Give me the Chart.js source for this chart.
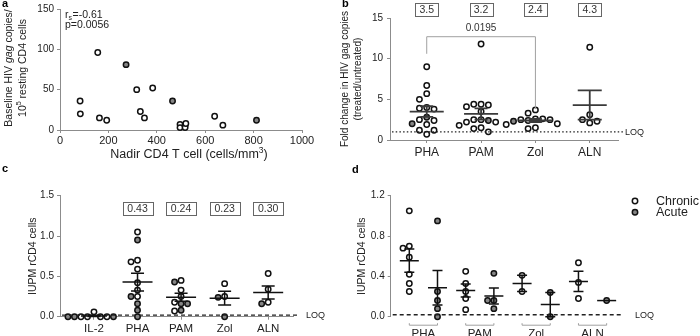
<!DOCTYPE html>
<html>
<head>
<meta charset="utf-8">
<script src="https://cdn.jsdelivr.net/npm/chart.js@4.4.0/dist/chart.umd.min.js"></script>
<style>
  html, body { margin: 0; padding: 0; background: #fff; width: 700px; height: 336px; overflow: hidden; }
  canvas { position: absolute; }
</style>
</head>
<body>
<canvas id="ca" width="340" height="165" style="left:0;top:0"></canvas>
<canvas id="cb" width="360" height="165" style="left:340px;top:0"></canvas>
<canvas id="cc" width="350" height="171" style="left:0;top:165px"></canvas>
<canvas id="cd" width="350" height="171" style="left:350px;top:165px"></canvas>
<script>
// ---- panel a: nadir CD4 vs baseline gag copies
const aChronicX = [83, 84, 156, 163, 193, 317, 332, 349, 383, 496, 496, 517, 517, 520, 639, 673];
const aChronicY = [36, 20, 96, 15, 12, 50, 23, 15, 52, 7, 3, 6, 3, 8, 17, 6];
const aAcuteX = [273, 465, 812];
const aAcuteY = [81, 36, 12];

// ---- panel b: fold change in gag copies
const bGroups = ['PHA', 'PAM', 'Zol', 'ALN'];
const bChronic = [
  [9.0, 6.7, 5.7, 5.0, 4.0, 3.8, 3.9, 2.4, 2.5, 1.9, 1.2, 1.2, 0.7],
  [11.8, 4.4, 4.4, 4.3, 4.1, 3.5, 2.5, 2.2, 2.5, 2.2, 1.8, 1.5, 1.4, 1.0],
  [3.7, 3.3, 2.6, 2.5, 2.5, 2.6, 2.4, 2.0, 1.9, 1.5, 1.4],
  [11.4, 3.1, 2.5, 2.1, 2.3]
];
const bAcute = [[2.8, 2.0], [2.4], [2.3], []];
const bMean = [3.5, 3.2, 2.4, 4.3];
const bSem = [0.65, 0.7, 0.2, 1.8];
const bLoq = 1;
const bPvalue = '0.0195';

// ---- panel c: IUPM per stimulus
const cGroups = ['IL-2', 'PHA', 'PAM', 'Zol', 'ALN'];
const cChronic = [
  [0.06, 0, 0, 0, 0],
  [1.05, 0.70, 0.68, 0.59, 0.42, 0.33, 0.25],
  [0.45, 0.33, 0.25, 0.18, 0.07],
  [0.41, 0.25],
  [0.535, 0.34, 0.18]
];
const cAcute = [
  [0, 0, 0],
  [0.95, 0.25, 0.16, 0.08, 0],
  [0.43, 0.16, 0.16, 0.08],
  [0.24, 0],
  [0.16]
];
const cMean = [0.01, 0.43, 0.24, 0.23, 0.30];
const cSem = [0.008, 0.11, 0.05, 0.085, 0.08];
const cLoq = 0.02;

// ---- panel d: chronic vs acute
const dGroups = ['PHA', 'PAM', 'Zol', 'ALN'];
const dMeanChronic = [0.556, 0.26, 0.33, 0.35];
const dSemChronic = [0.115, 0.065, 0.08, 0.10];
const dMeanAcute = [0.287, 0.205, 0.12, 0.16];
const dSemAcute = [0.17, 0.08, 0.12, 0];

const FONT = "'Liberation Sans', Arial, sans-serif";
const AX = '#8c8c8c';
const TXT = '#222';
const GRAY = '#858585';

function pts(groups) {
  const out = [];
  groups.forEach((vals, g) => vals.forEach(v => out.push({ x: g, y: v, g })));
  return out;
}
function dotSet(data, fill) {
  return {
    data, backgroundColor: fill, borderColor: '#111', borderWidth: 1.5,
    pointRadius: 2.7, pointHoverRadius: 2.7, clip: false
  };
}
function axis(o) {
  return Object.assign({
    type: 'linear',
    grid: { drawOnChartArea: false, color: AX, tickLength: 3 },
    border: { color: AX },
  }, o, { ticks: Object.assign({ color: TXT, font: { family: FONT, size: 10 }, padding: 3 }, o.ticks || {}) });
}
function fixed(ticks) {
  return s => { s.ticks = ticks.map(v => ({ value: v })); };
}
function base(padding, scales) {
  return {
    responsive: false, animation: false, events: [],
    layout: { padding },
    plugins: { legend: { display: false }, tooltip: { enabled: false } },
    scales
  };
}
function extras(draw) {
  return { id: 'extras', afterDatasetsDraw(chart) { chart.ctx.save(); draw(chart.ctx, chart); chart.ctx.restore(); } };
}

function text(ctx, s, x, y, o = {}) {
  ctx.font = `${o.style || ''} ${o.weight || ''} ${o.size || 11}px ${FONT}`;
  ctx.fillStyle = o.color || TXT;
  ctx.textAlign = o.align || 'left';
  ctx.textBaseline = o.base || 'middle';
  ctx.fillText(s, x, y);
}
// rich text: parts {t, it, sup}; centred on (cx, cy), optional rotation
function rich(ctx, parts, cx, cy, size, rot) {
  ctx.save();
  ctx.translate(cx, cy);
  if (rot) ctx.rotate(rot);
  const fontOf = p => `${p.it ? 'italic ' : ''}${p.sup ? size * 0.68 : size}px ${FONT}`;
  let w = 0;
  parts.forEach(p => { ctx.font = fontOf(p); w += ctx.measureText(p.t).width; });
  let x = -w / 2;
  ctx.fillStyle = TXT;
  ctx.textBaseline = 'middle';
  ctx.textAlign = 'left';
  parts.forEach(p => {
    ctx.font = fontOf(p);
    ctx.fillText(p.t, x, p.sup ? -size * 0.35 : 0);
    x += ctx.measureText(p.t).width;
  });
  ctx.restore();
}
function meanBars(ctx, chart, items) {
  const xs = chart.scales.x, ys = chart.scales.y;
  items.forEach(it => {
    const xp = xs.getPixelForValue(it.x);
    ctx.strokeStyle = it.color; ctx.lineWidth = it.lw;
    ctx.beginPath();
    if (it.s > 0) {
      const yt = ys.getPixelForValue(it.m + it.s), yb = ys.getPixelForValue(it.m - it.s);
      ctx.moveTo(xp, yt); ctx.lineTo(xp, yb);
      ctx.moveTo(xp - it.cw, yt); ctx.lineTo(xp + it.cw, yt);
      ctx.moveTo(xp - it.cw, yb); ctx.lineTo(xp + it.cw, yb);
    }
    const ym = ys.getPixelForValue(it.m);
    ctx.moveTo(xp - it.hw, ym); ctx.lineTo(xp + it.hw, ym);
    ctx.stroke();
  });
}
function loqLine(ctx, chart, v, dash, lw, extend, labelGap) {
  const ca = chart.chartArea, y = chart.scales.y.getPixelForValue(v);
  ctx.strokeStyle = '#222'; ctx.lineWidth = lw; ctx.setLineDash(dash);
  ctx.beginPath(); ctx.moveTo(ca.left + 2, y); ctx.lineTo(ca.right + extend, y); ctx.stroke();
  ctx.setLineDash([]);
  text(ctx, 'LOQ', ca.right + extend + labelGap, y + 0.5, { size: 9 });
}
function boxLabel(ctx, s, x, y, w, h) {
  ctx.strokeStyle = '#666'; ctx.lineWidth = 1;
  ctx.strokeRect(Math.round(x - w / 2) + 0.5, Math.round(y - h / 2) + 0.5, w, h);
  text(ctx, s, x, y + 1, { size: 10.5, align: 'center', color: '#333' });
}
// beeswarm spread: after layout, offset points of a group sideways so they don't overlap
function swarm(chart, step) {
  const xs = chart.scales.x, ys = chart.scales.y;
  const unit = xs.getPixelForValue(1) - xs.getPixelForValue(0);
  const groups = new Map();
  chart.data.datasets.forEach(ds => ds.data.forEach(p => {
    if (!groups.has(p.g)) groups.set(p.g, []);
    groups.get(p.g).push(p);
  }));
  groups.forEach(list => {
    list.sort((a, b) => b.y - a.y);
    const placed = [];
    list.forEach(p => {
      const py = ys.getPixelForValue(p.y);
      for (let k = 0; k < 60; k++) {
        const off = (k % 2 ? -1 : 1) * Math.ceil(k / 2) * step;
        if (placed.every(q => Math.hypot(q.ox - off, q.py - py) >= step * 0.95)) {
          placed.push({ ox: off, py });
          p.x = p.g + off / unit;
          break;
        }
      }
    });
  });
  chart.update('none');
}

// ================= panel a
new Chart(document.getElementById('ca'), {
  type: 'scatter',
  data: {
    datasets: [
      dotSet(aChronicX.map((x, i) => ({ x, y: aChronicY[i] })), '#fff'),
      dotSet(aAcuteX.map((x, i) => ({ x, y: aAcuteY[i] })), GRAY)
    ]
  },
  options: base({ left: 0, top: 9, right: 38, bottom: 0 }, {
    x: axis({ min: 0, max: 1000, ticks: { stepSize: 200, padding: 1, callback: v => String(v), font: { family: FONT, size: 11 } }, afterFit: s => { s.height = 35; } }),
    y: axis({ min: 0, max: 150, ticks: { stepSize: 50 }, afterFit: s => { s.width = 60; } })
  }),
  plugins: [extras((ctx, chart) => {
    text(ctx, 'a', 2, 7, { weight: 'bold', size: 11, base: 'alphabetic', color: '#000' });
    rich(ctx, [{ t: 'Baseline HIV ' }, { t: 'gag', it: true }, { t: ' copies/' }], 9, 68, 10.5, -Math.PI / 2);
    rich(ctx, [{ t: '10' }, { t: '5', sup: true }, { t: ' resting CD4 cells' }], 23, 68, 10.5, -Math.PI / 2);
    rich(ctx, [{ t: 'Nadir CD4 T cell (cells/mm' }, { t: '3', sup: true }, { t: ')' }], 189, 155, 12.5, 0);
    ctx.save(); ctx.translate(65, 15);
    text(ctx, 'r', 0, 0, { size: 10.5 });
    text(ctx, 's', 3.6, 3, { size: 7 });
    text(ctx, '=-0.61', 7.6, 0, { size: 10.5 });
    ctx.restore();
    text(ctx, 'p=0.0056', 65, 25.5, { size: 10.5 });
  })]
});

// ================= panel b
const chartB = new Chart(document.getElementById('cb'), {
  type: 'scatter',
  data: { datasets: [dotSet(pts(bChronic), '#fff'), dotSet(pts(bAcute), GRAY)] },
  options: base({ left: 0, top: 18, right: 82, bottom: 0 }, {
    x: axis({
      min: -0.676, max: 3.52, afterBuildTicks: fixed([0, 1, 2, 3]),
      ticks: { callback: v => bGroups[v], padding: 2, font: { family: FONT, size: 12 } },
      afterFit: s => { s.height = 25; }
    }),
    y: axis({ min: 0, max: 15, ticks: { stepSize: 5, padding: 4 }, afterFit: s => { s.width = 50; } })
  }),
  plugins: [extras((ctx, chart) => {
    const xs = chart.scales.x, ys = chart.scales.y;
    text(ctx, 'b', 2, 7, { weight: 'bold', size: 11, base: 'alphabetic', color: '#000' });
    rich(ctx, [{ t: 'Fold change in HIV gag copies' }], 5, 79, 10, -Math.PI / 2);
    rich(ctx, [{ t: '(treated/untreated)' }], 18, 79, 10, -Math.PI / 2);
    loqLine(ctx, chart, bLoq, [1.5, 2.2], 1.2, 5, 2);
    meanBars(ctx, chart, bMean.map((m, i) => ({ x: i, m, s: bSem[i], hw: 17, cw: i === 3 ? 12 : 6.5, color: '#3a3a3a', lw: 1.8 })));
    bMean.forEach((m, i) => boxLabel(ctx, m.toFixed(1), xs.getPixelForValue(i), 9, 23, 13));
    // significance bracket PHA vs Zol
    const x0 = xs.getPixelForValue(0), x2 = xs.getPixelForValue(2);
    const yTop = ys.getPixelForValue(12.7);
    ctx.strokeStyle = '#a0a0a0'; ctx.lineWidth = 1;
    ctx.beginPath();
    ctx.moveTo(x0, ys.getPixelForValue(10.6)); ctx.lineTo(x0, yTop);
    ctx.lineTo(x2, yTop); ctx.lineTo(x2, ys.getPixelForValue(3.8));
    ctx.stroke();
    text(ctx, bPvalue, (x0 + x2) / 2, yTop - 8, { size: 10, align: 'center', color: '#333' });
  })]
});
swarm(chartB, 7.3);

// ================= panel c
const chartC = new Chart(document.getElementById('cc'), {
  type: 'scatter',
  data: { datasets: [dotSet(pts(cChronic), '#fff'), dotSet(pts(cAcute), GRAY)] },
  options: base({ left: 0, top: 30.7, right: 57, bottom: 0 }, {
    x: axis({
      min: -0.78, max: 4.57, afterBuildTicks: fixed([0, 1, 2, 3, 4]),
      ticks: { callback: v => cGroups[v], padding: 2, font: { family: FONT, size: 11.5 } },
      afterFit: s => { s.height = 19.3; }
    }),
    y: axis({ min: 0, max: 1.5, ticks: { stepSize: 0.5, callback: v => v.toFixed(1) }, afterFit: s => { s.width = 60; } })
  }),
  plugins: [extras((ctx, chart) => {
    const xs = chart.scales.x, ys = chart.scales.y, ca = chart.chartArea;
    text(ctx, 'c', 2, 7, { weight: 'bold', size: 11, base: 'alphabetic', color: '#000' });
    rich(ctx, [{ t: 'IUPM rCD4 cells' }], 33, (ca.top + ca.bottom) / 2, 10.5, -Math.PI / 2);
    loqLine(ctx, chart, cLoq, [4, 3], 1.4, 4, 9);
    meanBars(ctx, chart, cMean.map((m, i) => ({ x: i, m, s: cSem[i], hw: i === 0 ? 13 : 15, cw: 6.5, color: '#111', lw: 1.5 })));
    cMean.forEach((m, i) => { if (i > 0) boxLabel(ctx, m.toFixed(2), xs.getPixelForValue(i), ys.getPixelForValue(1.34), 30, 13); });
  })]
});
swarm(chartC, 6.5);

// ================= panel d
const dChronicPts = [], dAcutePts = [];
cChronic.slice(1).forEach((vals, i) => vals.forEach(v => dChronicPts.push({ x: 2 * i, y: v, g: 2 * i })));
cAcute.slice(1).forEach((vals, i) => vals.forEach(v => dAcutePts.push({ x: 2 * i + 1, y: v, g: 2 * i + 1 })));
const chartD = new Chart(document.getElementById('cd'), {
  type: 'scatter',
  data: { datasets: [dotSet(dChronicPts, '#fff'), dotSet(dAcutePts, GRAY)] },
  options: base({ left: 0, top: 30.7, right: 77, bottom: 0 }, {
    x: axis({
      min: -0.66, max: 7.58, afterBuildTicks: fixed([0.5, 2.5, 4.5, 6.5]),
      grid: { display: false, drawTicks: false }, border: { display: false },
      ticks: { callback: v => dGroups[(v - 0.5) / 2], padding: 10, font: { family: FONT, size: 11.5 } },
      afterFit: s => { s.height = 19.3; }
    }),
    y: axis({ min: 0, max: 1.2, ticks: { stepSize: 0.4, callback: v => v.toFixed(1) }, afterFit: s => { s.width = 40.7; } })
  }),
  plugins: [extras((ctx, chart) => {
    const xs = chart.scales.x, ca = chart.chartArea;
    text(ctx, 'd', 2, 8, { weight: 'bold', size: 11, base: 'alphabetic', color: '#000' });
    rich(ctx, [{ t: 'IUPM rCD4 cells' }], 12, (ca.top + ca.bottom) / 2, 10.5, -Math.PI / 2);
    loqLine(ctx, chart, cLoq, [4, 3], 1.4, 0, 12);
    meanBars(ctx, chart, dMeanChronic.map((m, i) => ({ x: 2 * i, m, s: dSemChronic[i], hw: 9.5, cw: 5, color: '#111', lw: 1.5 })));
    meanBars(ctx, chart, dMeanAcute.map((m, i) => ({ x: 2 * i + 1, m, s: dSemAcute[i], hw: 9.5, cw: 5, color: '#111', lw: 1.5 })));
    // group brackets under each pair
    ctx.strokeStyle = '#a0a0a0'; ctx.lineWidth = 1;
    dGroups.forEach((g, i) => {
      const xa = xs.getPixelForValue(2 * i), xb = xs.getPixelForValue(2 * i + 1), y = ca.bottom + 8.5;
      ctx.beginPath();
      ctx.moveTo(xa, y - 2); ctx.lineTo(xa, y); ctx.lineTo(xb, y); ctx.lineTo(xb, y - 2);
      ctx.stroke();
    });
    // legend
    [['Chronic', '#fff', 36], ['Acute', GRAY, 47.3]].forEach(([lab, fill, y]) => {
      ctx.beginPath(); ctx.arc(285, y, 2.7, 0, Math.PI * 2);
      ctx.fillStyle = fill; ctx.fill();
      ctx.strokeStyle = '#111'; ctx.lineWidth = 1.5; ctx.stroke();
      text(ctx, lab, 306, y + 0.5, { size: 12.5 });
    });
  })]
});
swarm(chartD, 6.3);
</script>
</body>
</html>
